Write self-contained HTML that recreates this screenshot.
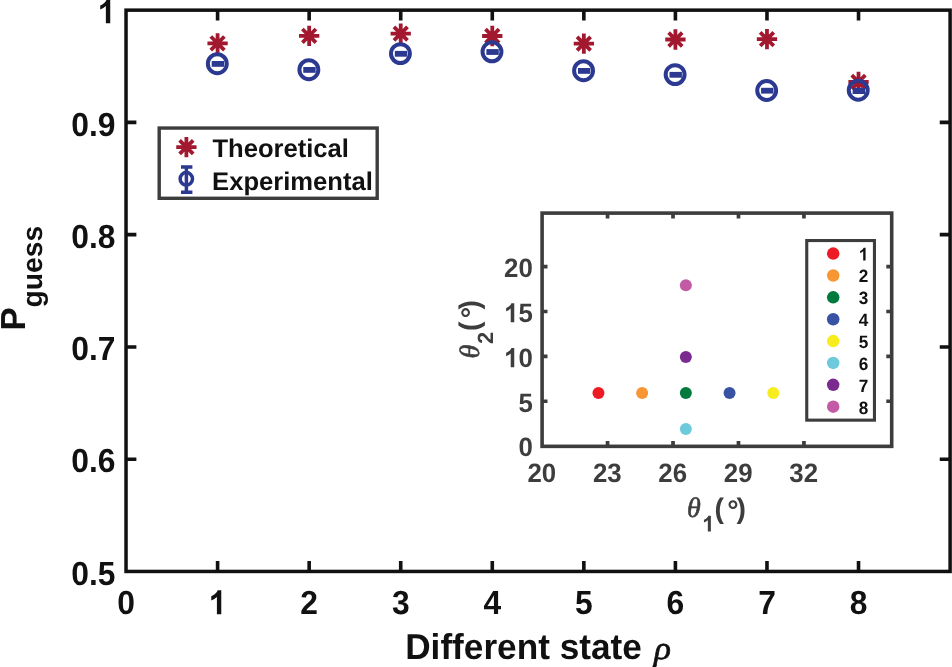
<!DOCTYPE html>
<html><head><meta charset="utf-8"><title>P_guess chart</title>
<style>html,body{margin:0;padding:0;background:#fff;overflow:hidden}svg{display:block;will-change:transform;transform:translateZ(0)}text{text-rendering:geometricPrecision}text{font-family:"Liberation Sans",sans-serif;font-weight:bold}.it{font-family:"Liberation Serif",serif;font-style:italic;font-weight:normal}</style></head><body>
<svg width="952" height="667" viewBox="0 0 952 667">
<rect x="0" y="0" width="952" height="667" fill="#ffffff"/>
<g stroke="#111111" fill="none">
<rect x="126.03" y="10.15" width="824.07" height="561.30" stroke-width="3.5"/>
<path d="M217.59 571.45v-10.35M217.59 10.15v10.35" stroke-width="3.6"/>
<path d="M309.16 571.45v-10.35M309.16 10.15v10.35" stroke-width="3.6"/>
<path d="M400.72 571.45v-10.35M400.72 10.15v10.35" stroke-width="3.6"/>
<path d="M492.28 571.45v-10.35M492.28 10.15v10.35" stroke-width="3.6"/>
<path d="M583.85 571.45v-10.35M583.85 10.15v10.35" stroke-width="3.6"/>
<path d="M675.41 571.45v-10.35M675.41 10.15v10.35" stroke-width="3.6"/>
<path d="M766.97 571.45v-10.35M766.97 10.15v10.35" stroke-width="3.6"/>
<path d="M858.53 571.45v-10.35M858.53 10.15v10.35" stroke-width="3.6"/>
<path d="M126.03 122.41h10.35M950.10 122.41h-10.35" stroke-width="3.6"/>
<path d="M126.03 234.67h10.35M950.10 234.67h-10.35" stroke-width="3.6"/>
<path d="M126.03 346.93h10.35M950.10 346.93h-10.35" stroke-width="3.6"/>
<path d="M126.03 459.19h10.35M950.10 459.19h-10.35" stroke-width="3.6"/>
</g>
<g fill="#111111" font-size="31.8">
<text transform="translate(117.19 614.20) scale(1 1.05)" font-size="31.8" fill="#111111">0</text>
<path d="M806 0H525V1059Q371 915 162 846V1101Q272 1137 401 1237.5T578 1472H806Z" fill="#111111" transform="translate(208.75 614.20) scale(0.01553 -0.01630)"/>
<text transform="translate(300.31 614.20) scale(1 1.05)" font-size="31.8" fill="#111111">2</text>
<text transform="translate(391.88 614.20) scale(1 1.05)" font-size="31.8" fill="#111111">3</text>
<text transform="translate(483.44 614.20) scale(1 1.05)" font-size="31.8" fill="#111111">4</text>
<text transform="translate(575.00 614.20) scale(1 1.05)" font-size="31.8" fill="#111111">5</text>
<text transform="translate(666.56 614.20) scale(1 1.05)" font-size="31.8" fill="#111111">6</text>
<text transform="translate(758.13 614.20) scale(1 1.05)" font-size="31.8" fill="#111111">7</text>
<text transform="translate(849.69 614.20) scale(1 1.05)" font-size="31.8" fill="#111111">8</text>
<path d="M806 0H525V1059Q371 915 162 846V1101Q272 1137 401 1237.5T578 1472H806Z" fill="#111111" transform="translate(97.71 23.35) scale(0.01553 -0.01630)"/>
<text transform="translate(71.19 135.61) scale(1 1.05)" font-size="31.8" fill="#111111">0</text><text transform="translate(88.88 135.61) scale(1 1.05)" font-size="31.8" fill="#111111">.</text><text transform="translate(97.71 135.61) scale(1 1.05)" font-size="31.8" fill="#111111">9</text>
<text transform="translate(71.19 247.87) scale(1 1.05)" font-size="31.8" fill="#111111">0</text><text transform="translate(88.88 247.87) scale(1 1.05)" font-size="31.8" fill="#111111">.</text><text transform="translate(97.71 247.87) scale(1 1.05)" font-size="31.8" fill="#111111">8</text>
<text transform="translate(71.19 360.13) scale(1 1.05)" font-size="31.8" fill="#111111">0</text><text transform="translate(88.88 360.13) scale(1 1.05)" font-size="31.8" fill="#111111">.</text><text transform="translate(97.71 360.13) scale(1 1.05)" font-size="31.8" fill="#111111">7</text>
<text transform="translate(71.19 472.39) scale(1 1.05)" font-size="31.8" fill="#111111">0</text><text transform="translate(88.88 472.39) scale(1 1.05)" font-size="31.8" fill="#111111">.</text><text transform="translate(97.71 472.39) scale(1 1.05)" font-size="31.8" fill="#111111">6</text>
<text transform="translate(71.19 584.65) scale(1 1.05)" font-size="31.8" fill="#111111">0</text><text transform="translate(88.88 584.65) scale(1 1.05)" font-size="31.8" fill="#111111">.</text><text transform="translate(97.71 584.65) scale(1 1.05)" font-size="31.8" fill="#111111">5</text>
</g>
<text transform="translate(405.2 659.2) scale(1 1.02)" font-size="35.2" fill="#111111">Different state</text>
<text transform="translate(654.3 658.9) scale(1 0.93)" class="it" font-size="34.8" fill="#111111" stroke="#111111" stroke-width="0.7">&#961;</text>
<path d="M652.85 665.2L656.6 665.2L656.15 667L652.4 667Z" fill="#111111"/>
<g transform="translate(24.6 330.6) rotate(-90)" fill="#111111"><text x="0" y="0" font-size="34.8">P</text><text x="23.1" y="17.7" font-size="28.3">guess</text></g>
<path d="M207.44 43.30L227.74 43.30M210.80 36.51L224.38 50.09M217.59 33.15L217.59 53.45M224.38 36.51L210.80 50.09" stroke="#a2192f" stroke-width="3.8" fill="none"/>
<path d="M299.01 35.80L319.31 35.80M302.37 29.01L315.94 42.59M309.16 25.65L309.16 45.95M315.94 29.01L302.37 42.59" stroke="#a2192f" stroke-width="3.8" fill="none"/>
<path d="M390.57 33.60L410.87 33.60M393.93 26.81L407.51 40.39M400.72 23.45L400.72 43.75M407.51 26.81L393.93 40.39" stroke="#a2192f" stroke-width="3.8" fill="none"/>
<path d="M482.13 36.00L502.43 36.00M485.49 29.21L499.07 42.79M492.28 25.85L492.28 46.15M499.07 29.21L485.49 42.79" stroke="#a2192f" stroke-width="3.8" fill="none"/>
<path d="M573.70 43.60L594.00 43.60M577.06 36.81L590.63 50.39M583.85 33.45L583.85 53.75M590.63 36.81L577.06 50.39" stroke="#a2192f" stroke-width="3.8" fill="none"/>
<path d="M665.26 39.50L685.56 39.50M668.62 32.71L682.20 46.29M675.41 29.35L675.41 49.65M682.20 32.71L668.62 46.29" stroke="#a2192f" stroke-width="3.8" fill="none"/>
<path d="M756.82 39.10L777.12 39.10M760.18 32.31L773.76 45.89M766.97 28.95L766.97 49.25M773.76 32.31L760.18 45.89" stroke="#a2192f" stroke-width="3.8" fill="none"/>
<path d="M848.38 82.00L868.68 82.00M851.75 75.21L865.32 88.79M858.53 71.85L858.53 92.15M865.32 75.21L851.75 88.79" stroke="#a2192f" stroke-width="3.8" fill="none"/>
<circle cx="217.29" cy="63.70" r="9.45" stroke="#2b3990" stroke-width="4.0" fill="none"/><rect x="211.69" y="61.00" width="12.4" height="5.8" fill="#2b3990"/>
<circle cx="308.86" cy="69.70" r="9.45" stroke="#2b3990" stroke-width="4.0" fill="none"/><rect x="303.26" y="67.00" width="12.4" height="5.8" fill="#2b3990"/>
<circle cx="400.42" cy="53.60" r="9.45" stroke="#2b3990" stroke-width="4.0" fill="none"/><rect x="394.82" y="50.90" width="12.4" height="5.8" fill="#2b3990"/>
<circle cx="491.98" cy="51.80" r="9.45" stroke="#2b3990" stroke-width="4.0" fill="none"/><rect x="486.38" y="49.10" width="12.4" height="5.8" fill="#2b3990"/>
<circle cx="583.55" cy="70.70" r="9.45" stroke="#2b3990" stroke-width="4.0" fill="none"/><rect x="577.95" y="68.00" width="12.4" height="5.8" fill="#2b3990"/>
<circle cx="675.11" cy="74.60" r="9.45" stroke="#2b3990" stroke-width="4.0" fill="none"/><rect x="669.51" y="71.90" width="12.4" height="5.8" fill="#2b3990"/>
<circle cx="766.67" cy="90.50" r="9.45" stroke="#2b3990" stroke-width="4.0" fill="none"/><rect x="761.07" y="87.80" width="12.4" height="5.8" fill="#2b3990"/>
<circle cx="858.23" cy="90.20" r="9.45" stroke="#2b3990" stroke-width="4.0" fill="none"/><rect x="852.63" y="87.80" width="12.4" height="6.2" fill="#2b3990"/>
<rect x="159.2" y="128.05" width="218.0" height="70.25" fill="#fff" stroke="#3d3d3d" stroke-width="3.4"/>
<path d="M176.25 147.10L196.55 147.10M179.61 140.31L193.19 153.89M186.40 136.95L186.40 157.25M193.19 140.31L179.61 153.89" stroke="#a2192f" stroke-width="3.8" fill="none"/>
<g stroke="#2b3990" fill="none" stroke-width="3.5"><path d="M186.4 166.8V192.4M181 166.9h11.4M181 192.3h11.4"/><circle cx="186.3" cy="178.8" r="6.2"/></g>
<g fill="#111111" font-size="25.6"><text x="212.4" y="156.7">Theoretical</text><text x="212.1" y="190.0">Experimental</text></g>
<g stroke="#3d3d3d" fill="none">
<rect x="542.1" y="213.1" width="349.60" height="233.25" stroke-width="3.6"/>
<path d="M607.56 446.35v-5.4M607.56 213.10v5.4" stroke-width="3.7"/>
<path d="M673.02 446.35v-5.4M673.02 213.10v5.4" stroke-width="3.7"/>
<path d="M738.48 446.35v-5.4M738.48 213.10v5.4" stroke-width="3.7"/>
<path d="M803.94 446.35v-5.4M803.94 213.10v5.4" stroke-width="3.7"/>
<path d="M542.10 401.23h5.4M891.70 401.23h-5.4" stroke-width="3.7"/>
<path d="M542.10 356.35h5.4M891.70 356.35h-5.4" stroke-width="3.7"/>
<path d="M542.10 311.48h5.4M891.70 311.48h-5.4" stroke-width="3.7"/>
<path d="M542.10 266.60h5.4M891.70 266.60h-5.4" stroke-width="3.7"/>
</g>
<g fill="#3d3d3d" font-size="25.8">
<text transform="translate(527.45 481.70) scale(1 1.03)" font-size="25.8" fill="#3d3d3d">2</text><text transform="translate(541.80 481.70) scale(1 1.03)" font-size="25.8" fill="#3d3d3d">0</text>
<text transform="translate(592.91 481.70) scale(1 1.03)" font-size="25.8" fill="#3d3d3d">2</text><text transform="translate(607.26 481.70) scale(1 1.03)" font-size="25.8" fill="#3d3d3d">3</text>
<text transform="translate(658.37 481.70) scale(1 1.03)" font-size="25.8" fill="#3d3d3d">2</text><text transform="translate(672.72 481.70) scale(1 1.03)" font-size="25.8" fill="#3d3d3d">6</text>
<text transform="translate(723.83 481.70) scale(1 1.03)" font-size="25.8" fill="#3d3d3d">2</text><text transform="translate(738.18 481.70) scale(1 1.03)" font-size="25.8" fill="#3d3d3d">9</text>
<text transform="translate(789.29 481.70) scale(1 1.03)" font-size="25.8" fill="#3d3d3d">3</text><text transform="translate(803.64 481.70) scale(1 1.03)" font-size="25.8" fill="#3d3d3d">2</text>
<text transform="translate(518.45 456.30) scale(1 1.03)" font-size="25.8" fill="#3d3d3d">0</text>
<text transform="translate(518.45 412.03) scale(1 1.03)" font-size="25.8" fill="#3d3d3d">5</text>
<path d="M806 0H525V1059Q371 915 162 846V1101Q272 1137 401 1237.5T578 1472H806Z" fill="#3d3d3d" transform="translate(504.10 367.15) scale(0.01260 -0.01298)"/><text transform="translate(518.45 367.15) scale(1 1.03)" font-size="25.8" fill="#3d3d3d">0</text>
<path d="M806 0H525V1059Q371 915 162 846V1101Q272 1137 401 1237.5T578 1472H806Z" fill="#3d3d3d" transform="translate(504.10 322.28) scale(0.01260 -0.01298)"/><text transform="translate(518.45 322.28) scale(1 1.03)" font-size="25.8" fill="#3d3d3d">5</text>
<text transform="translate(504.10 277.40) scale(1 1.03)" font-size="25.8" fill="#3d3d3d">2</text><text transform="translate(518.45 277.40) scale(1 1.03)" font-size="25.8" fill="#3d3d3d">0</text>
</g>
<circle cx="598.45" cy="392.95" r="6" fill="#ed1c24"/>
<circle cx="642.15" cy="392.95" r="6" fill="#f79633"/>
<circle cx="685.85" cy="392.95" r="6" fill="#007a3d"/>
<circle cx="729.55" cy="392.95" r="6" fill="#3953a4"/>
<circle cx="773.25" cy="392.95" r="6" fill="#f7ec1e"/>
<circle cx="685.85" cy="429.10" r="6" fill="#6dcadd"/>
<circle cx="685.85" cy="357.00" r="6" fill="#7b2a8f"/>
<circle cx="685.85" cy="285.20" r="6" fill="#c25aa6"/>
<rect x="806.75" y="240.55" width="67.7" height="179.6" fill="#fff" stroke="#3d3d3d" stroke-width="3.1"/>
<circle cx="833.2" cy="253.60" r="6.25" fill="#ed1c24"/>
<path d="M806 0H525V1059Q371 915 162 846V1101Q272 1137 401 1237.5T578 1472H806Z" fill="#111111" transform="translate(858.80 260.60) scale(0.00840 -0.00873)"/>
<circle cx="833.2" cy="275.47" r="6.25" fill="#f79633"/>
<text transform="translate(858.80 282.47) scale(1 1.04)" font-size="17.2" fill="#111111">2</text>
<circle cx="833.2" cy="297.34" r="6.25" fill="#007a3d"/>
<text transform="translate(858.80 304.34) scale(1 1.04)" font-size="17.2" fill="#111111">3</text>
<circle cx="833.2" cy="319.21" r="6.25" fill="#3953a4"/>
<text transform="translate(858.80 326.21) scale(1 1.04)" font-size="17.2" fill="#111111">4</text>
<circle cx="833.2" cy="341.08" r="6.25" fill="#f7ec1e"/>
<text transform="translate(858.80 348.08) scale(1 1.04)" font-size="17.2" fill="#111111">5</text>
<circle cx="833.2" cy="362.95" r="6.25" fill="#6dcadd"/>
<text transform="translate(858.80 369.95) scale(1 1.04)" font-size="17.2" fill="#111111">6</text>
<circle cx="833.2" cy="384.82" r="6.25" fill="#7b2a8f"/>
<text transform="translate(858.80 391.82) scale(1 1.04)" font-size="17.2" fill="#111111">7</text>
<circle cx="833.2" cy="406.69" r="6.25" fill="#c25aa6"/>
<text transform="translate(858.80 413.69) scale(1 1.04)" font-size="17.2" fill="#111111">8</text>
<g fill="#3d3d3d"><text x="687.0" y="517.4" class="it" font-size="28" stroke="#3d3d3d" stroke-width="0.6">&#952;</text><path d="M806 0H525V1059Q371 915 162 846V1101Q272 1137 401 1237.5T578 1472H806Z" fill="#3d3d3d" transform="translate(702.20 531.60) scale(0.01074 -0.01074)"/><text x="714.6" y="518.2" font-size="28.4">(</text><text x="727.3" y="519.5" font-size="28.4">&#176;</text><text x="736.5" y="518.2" font-size="28.4">)</text></g>
<g fill="#3d3d3d" transform="translate(479.4 358.3) rotate(-90)"><text x="-0.2" y="0" class="it" font-size="28" stroke="#3d3d3d" stroke-width="0.6">&#952;</text><text x="14.2" y="13.7" font-size="22">2</text><text x="27.3" y="-0.2" font-size="28.4">(</text><text x="40.1" y="1.1" font-size="28.4">&#176;</text><text x="48.8" y="-0.2" font-size="28.4">)</text></g>
</svg></body></html>
